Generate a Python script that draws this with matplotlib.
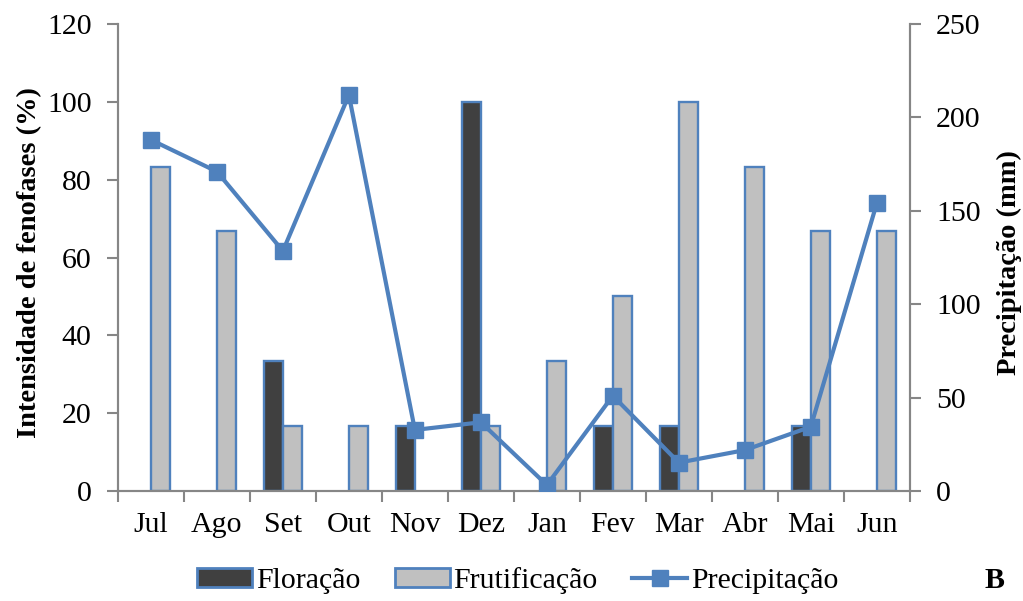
import matplotlib.pyplot as plt
import numpy as np
from matplotlib.patches import Patch
from matplotlib.lines import Line2D

meses = ["Jul", "Ago", "Set", "Out", "Nov", "Dez", "Jan", "Fev", "Mar", "Abr", "Mai", "Jun"]
floracao = [0, 0, 33.3, 0, 16.7, 100, 0, 16.7, 16.7, 0, 16.7, 0]
frutificacao = [83.3, 66.7, 16.7, 16.7, 0, 16.7, 33.3, 50, 100, 83.3, 66.7, 66.7]
precipitacao = [188, 171, 128.5, 212, 32.7, 36.8, 3.2, 51, 15.2, 21.9, 34.4, 154]

azul = "#4f81bd"
cinza_eixo = "#868686"
fs = 21.5

plt.rcParams['font.family'] = ['Liberation Serif', 'DejaVu Serif']

fig = plt.figure(figsize=(10.23, 6.01), dpi=100)
ax = fig.add_axes([0.1153, 0.183, 0.774, 0.777])
ax2 = ax.twinx()

x = np.arange(len(meses))
largura = 0.29

# barras: floração escura à esquerda, frutificação cinza à direita
for i in range(len(meses)):
    if floracao[i] > 0:
        ax.bar(x[i] - largura / 2, floracao[i], largura, color="#404040",
               edgecolor=azul, linewidth=1.7, zorder=2)
    if frutificacao[i] > 0:
        ax.bar(x[i] + largura / 2, frutificacao[i], largura, color="#c0c0c0",
               edgecolor=azul, linewidth=1.7, zorder=2)

ax2.plot(x, precipitacao, color=azul, linewidth=3, marker="s", markersize=11.5,
         zorder=3)

ax.set_xlim(-0.5, len(meses) - 0.5)
ax.set_ylim(0, 120)
ax.set_yticks(np.arange(0, 121, 20))
ax2.set_ylim(0, 250)
ax2.set_yticks(np.arange(0, 251, 50))

ax.set_xticks(x)
ax.set_xticklabels(meses)
ax.set_xticks(np.arange(-0.5, len(meses)), minor=True)
ax.tick_params(axis="x", which="major", length=0, pad=15, labelsize=fs)
ax.tick_params(axis="x", which="minor", length=8, width=1.5, color=cinza_eixo)
ax.tick_params(axis="y", length=8, width=1.5, color=cinza_eixo, labelsize=fs, pad=11)
ax2.tick_params(axis="y", length=8, width=1.5, color=cinza_eixo, labelsize=fs, pad=11)

for a in (ax, ax2):
    a.spines["top"].set_visible(False)
    for s in ("left", "right", "bottom"):
        a.spines[s].set_color(cinza_eixo)
        a.spines[s].set_linewidth(1.5)

ax.set_ylabel("Intensidade de fenofases (%)", fontsize=20.5, fontweight="bold")
ax2.set_ylabel("Precipitação (mm)", fontsize=20.5, fontweight="bold")
ax.yaxis.set_label_coords(-0.111, 0.49)
ax2.yaxis.set_label_coords(1.126, 0.49)
ax.yaxis.label.set_va("center")
ax2.yaxis.label.set_va("center")

ax2.set_zorder(ax.get_zorder() + 1)
ax2.patch.set_visible(False)

handles = [
    Patch(facecolor="#404040", edgecolor=azul, linewidth=2),
    Patch(facecolor="#c0c0c0", edgecolor=azul, linewidth=2),
    Line2D([0], [0], color=azul, linewidth=3, marker="s", markersize=11.5),
]
fig.legend(handles, ["Floração", "Frutificação", "Precipitação"], loc="center",
           bbox_to_anchor=(0.506, 0.034), ncol=3, frameon=False, fontsize=fs,
           handlelength=1.85, handleheight=0.6, handletextpad=0.12, columnspacing=1.15)

fig.text(0.972, 0.034, "B", fontsize=fs, fontweight="bold", ha="center", va="center")

fig.savefig("out.png", dpi=100)
